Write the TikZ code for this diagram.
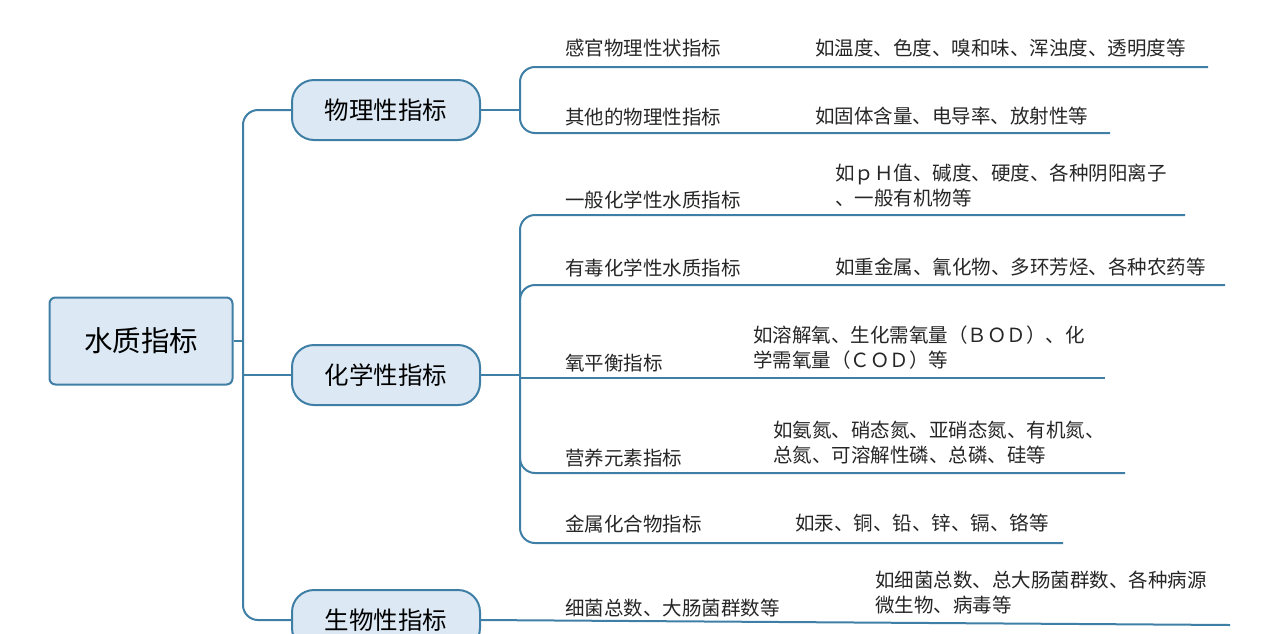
\documentclass[tikz,border=0pt]{standalone}
\usepackage{fontspec}
\setmainfont{Noto Sans CJK SC}
\definecolor{ln}{HTML}{3F7FA6}
\definecolor{bx}{HTML}{DCE9F5}
\begin{document}
\begin{tikzpicture}[x=1pt,y=-1pt,
  lbl/.style={anchor=west,inner sep=0,font=\fontsize{19.5}{25}\selectfont,text=black!85,align=left},
  l1/.style={draw=ln,line width=2pt,fill=bx,rounded corners=22,minimum width=188,minimum height=60,font=\fontsize{24.5}{28}\selectfont},
  br/.style={draw=ln,line width=2pt,rounded corners=15}]
\useasboundingbox (0,0) rectangle (1278,633);
\clip (0,0) rectangle (1278,633);
\node[draw=ln,line width=2pt,fill=bx,rounded corners=6,minimum width=183,minimum height=87,font=\fontsize{28.5}{32}\selectfont] (root) at (141,341) {水质指标};
\node[l1] (phys) at (386,110) {物理性指标};
\node[l1] (chem) at (386,375) {化学性指标};
\node[l1] (bio) at (386,620) {生物性指标};
\coordinate (sp) at (243,341);
\draw[br] (root.east) -- (sp);
\draw[br] (phys.west) -- (243,110) -- (243,620) -- (bio.west);
\draw[br] (chem.west) -- (243,375);
% physics
\coordinate (pj) at (520,110);
\draw[br] (phys.east) -- (pj);
\draw[br] (pj) |- (1208,67);
\draw[br] (pj) |- (1110,133);
% chemistry
\coordinate (cj) at (520,375);
\draw[br] (chem.east) -- (cj);
\draw[br] (1185,215) -| (cj) |- (1063,543);
\draw[br] (520,300) |- (1225,285);
\draw[br] (520,378) -- (1105,378);
\draw[br] (520,458) |- (1125,473);
% biology
\draw[br] (bio.east) -- (1230,625);
% labels
\node[lbl] (a1) at (565,48) {感官物理性状指标};
\node[lbl] (a2) at (815,48) {如温度、色度、嗅和味、浑浊度、透明度等};
\node[lbl] (b1) at (565,117) {其他的物理性指标};
\node[lbl] (b2) at (815,116) {如固体含量、电导率、放射性等};
\node[lbl] (c1) at (565,200) {一般化学性水质指标};
\node[lbl] (c2) at (835,186) {如ｐＨ值、碱度、硬度、各种阴阳离子\\、一般有机物等};
\node[lbl] (d1) at (565,268) {有毒化学性水质指标};
\node[lbl] (d2) at (835,267) {如重金属、氰化物、多环芳烃、各种农药等};
\node[lbl] (e1) at (565,363) {氧平衡指标};
\node[lbl] (e2) at (753,348) {如溶解氧、生化需氧量（ＢＯＤ）、化\\学需氧量（ＣＯＤ）等};
\node[lbl] (f1) at (565,458) {营养元素指标};
\node[lbl] (f2) at (773,443) {如氨氮、硝态氮、亚硝态氮、有机氮、\\总氮、可溶解性磷、总磷、硅等};
\node[lbl] (g1) at (565,524) {金属化合物指标};
\node[lbl] (g2) at (795,523) {如汞、铜、铅、锌、镉、铬等};
\node[lbl] (h1) at (565,608) {细菌总数、大肠菌群数等};
\node[lbl] (h2) at (875,593) {如细菌总数、总大肠菌群数、各种病源\\微生物、病毒等};
\end{tikzpicture}
\end{document}
